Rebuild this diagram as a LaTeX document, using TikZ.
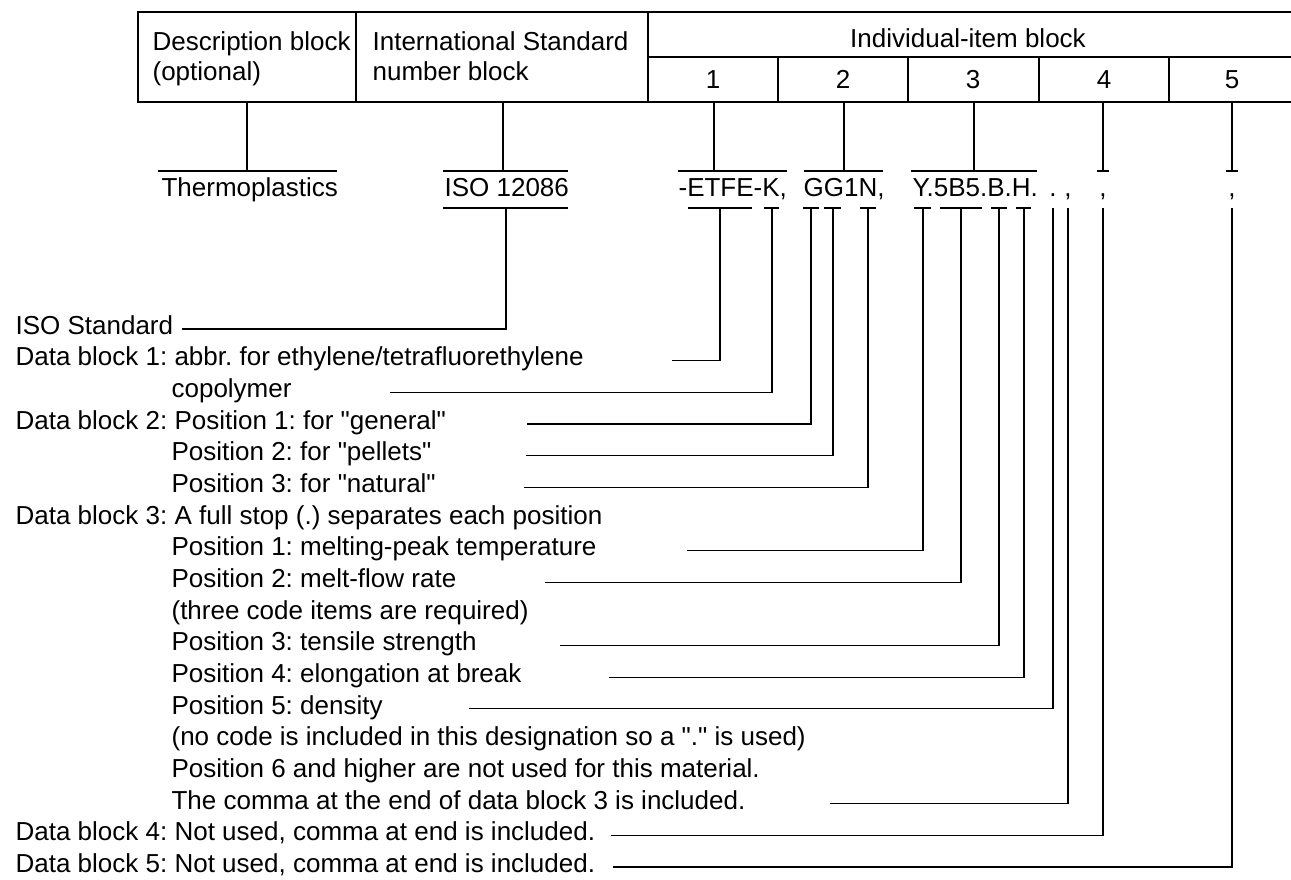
\documentclass[tikz,border=0pt]{standalone}
\usepackage{fontspec}
\setmainfont{Liberation Sans}
\frenchspacing
\begin{document}
\begin{tikzpicture}[x=0.5pt, y=-0.5pt, line width=0.6pt,
	every node/.style={inner sep=0pt, font=\fontsize{13}{15}\selectfont},
	txt/.style={anchor=base west},
	cen/.style={anchor=base},
	row/.style={anchor=mid west}]

	\useasboundingbox (0,0) rectangle (1291,879);

	% header table
	\draw (1291,12) -- (138,12) -- (138,102) -- (1291,102);
	\draw (356,12) -- (356,102) (648,12) -- (648,102) (648,57) -- (1291,57);
	\foreach \x in {778,908,1039,1169}
		\draw (\x,57) -- (\x,102);

	\node[txt] (desc) at (152,50) {Description block};
	\node[txt] (opt) at (152,80) {(optional)};
	\node[txt] (intl) at (372,50) {International Standard};
	\node[txt] (numb) at (372,80) {number block};
	\node[cen] (indiv) at (968,47) {Individual-item block};
	\foreach \i/\x in {1/713,2/843,3/973,4/1104,5/1232}
		\node[cen] (col\i) at (\x,88) {\i};

	% designation
	\node[txt] (thermo) at (161,196) {Thermoplastics};
	\node[txt] (iso) at (444,196) {ISO 12086};
	\node[txt] (db1) at (678,196) {-ETFE-K,};
	\node[txt] (db2) at (803,196) {GG1N,};
	\node[txt] (db3) at (912,196) {Y.5B5.B.H.};
	\node[cen] (dot) at (1053,196) {.};
	\node[cen] (cm3) at (1068,196) {,};
	\node[cen] (cm4) at (1103,196) {,};
	\node[cen] (cm5) at (1232,196) {,};

	% bars over the designation
	\foreach \a/\t/\b in {158/247/337, 443/503/568, 678/714/787, 804/844/883,
		911/974/1037, 1097/1103/1109, 1226/1232/1238}
		\draw (\a,171) -- (\b,171) (\t,171) -- (\t,102);

	% bars under the designation
	\foreach \n/\a/\t/\b in {iso/443/506/568, etfe/688/720/752, k/764/772/779,
		g1/803/811/819, g2/824/833/841, n/860/868/876, y/914/923/931,
		mfr/940/961/982, b/991/999/1007, h/1016/1024/1031}{
		\draw (\a,208) -- (\b,208);
		\coordinate (d-\n) at (\t,208);
	}
	\coordinate (d-dot) at (1053,208);
	\coordinate (d-cm3) at (1068,208);
	\coordinate (d-cm4) at (1103,208);
	\coordinate (d-cm5) at (1232,208);

	% explanations
	\foreach \i/\x/\lbl in {0/15/{ISO Standard},
		1/15/{Data block 1: abbr. for ethylene/tetrafluorethylene},
		2/171/{copolymer},
		3/15/{Data block 2: Position 1: for \textquotedbl general\textquotedbl},
		4/171/{Position 2: for \textquotedbl pellets\textquotedbl},
		5/171/{Position 3: for \textquotedbl natural\textquotedbl},
		6/15/{Data block 3: A full stop (.) separates each position},
		7/171/{Position 1: melting-peak temperature},
		8/171/{Position 2: melt-flow rate},
		9/171/{(three code items are required)},
		10/171/{Position 3: tensile strength},
		11/171/{Position 4: elongation at break},
		12/171/{Position 5: density},
		13/171/{(no code is included in this designation so a \textquotedbl.\textquotedbl\ is used)},
		14/171/{Position 6 and higher are not used for this material.},
		15/171/{The comma at the end of data block 3 is included.},
		16/15/{Data block 4: Not used, comma at end is included.},
		17/15/{Data block 5: Not used, comma at end is included.}}
		\node[row] (r\i) at (\x,{329+31.65*\i}) {\lbl};

	% leaders
	\foreach \i/\s/\n in {0/182/iso, 1/672/etfe, 2/390/k, 3/527/g1, 4/526/g2,
		5/524/n, 7/687/y, 8/545/mfr, 10/560/b, 11/609/h, 12/469/dot,
		15/830/cm3, 16/611/cm4, 17/613/cm5}
		\draw (\s,{329+31.65*\i}) -| (d-\n);

\end{tikzpicture}
\end{document}
